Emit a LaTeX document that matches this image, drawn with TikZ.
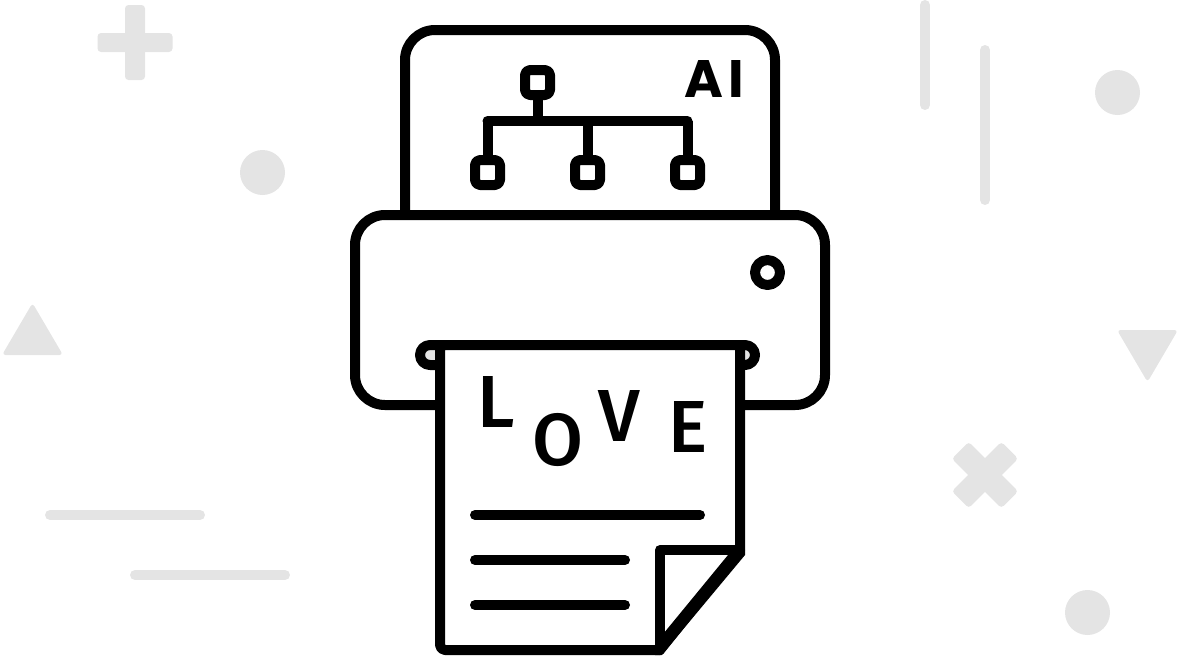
\documentclass[tikz,border=0pt]{standalone}
\usepackage{fontspec}
\setmainfont{Fira Sans Medium}
\newfontfamily\aifont{Poppins}
\definecolor{bggray}{RGB}{228,228,228}
\tikzset{
  bgshape/.style={fill=bggray,rounded corners=0.07cm},
  bgline/.style={draw=bggray,line width=0.2cm,line cap=round},
  inkline/.style={draw=black,line width=0.2cm,line cap=round,line join=round},
  treebox/.style={draw=black,fill=white,line width=0.2cm,rounded corners=0.1cm,minimum size=0.5cm,inner sep=0pt},
  loveletter/.style={font=\fontsize{42}{42}\selectfont,inner sep=0pt,anchor=base},
}
\begin{document}
\begin{tikzpicture}[x=0.02cm,y=-0.02cm,line cap=round,line join=round]
\useasboundingbox (0,0) rectangle (1180,660);
\fill[bgshape] (125,5) rectangle (145,80);
\fill[bgshape] (97.5,33) rectangle (172.5,52);
\fill[bggray] (262.5,172.5) circle (22.5);
\fill[bgshape] (32.5,303) -- (63,355) -- (2,355) -- cycle;
\draw[bgline] (50,515) -- (200,515);
\draw[bgline] (135,575) -- (285,575);
\draw[bgline] (925,5) -- (925,105);
\draw[bgline] (985,50) -- (985,200);
\fill[bggray] (1117.5,92.5) circle (22.5);
\fill[bgshape] (1117,330) -- (1178,330) -- (1147.5,382) -- cycle;
\fill[bgshape,rotate around={45:(985,475)}] (950,463) rectangle (1020,487);
\fill[bgshape,rotate around={-45:(985,475)}] (950,463) rectangle (1020,487);
\fill[bggray] (1087.5,612.5) circle (22.5);
\draw[inkline,rounded corners=0.6cm] (405,215) -- (405,30) -- (775,30) -- (775,215);
\node[treebox] (root) at (537.5,82.5) {};
\node[treebox] (leafa) at (487.5,172.5) {};
\node[treebox] (leafb) at (587.5,172.5) {};
\node[treebox] (leafc) at (687.5,172.5) {};
\coordinate (busroot) at (537.5,121);
\coordinate (busa) at (487.5,121);
\coordinate (busb) at (587.5,121);
\coordinate (busc) at (687.5,121);
\draw[inkline,line cap=butt] (root.south) -- (busroot);
\draw[inkline,line cap=butt] (busa) -- (leafa.north);
\draw[inkline,line cap=butt] (busb) -- (leafb.north);
\draw[inkline,line cap=butt] (busc) -- (leafc.north);
\draw[inkline] (busa) -- (busc);
\node[font=\aifont\fontsize{30}{30}\selectfont\bfseries,inner sep=0pt,anchor=base] (ailabel) at (714,97) {A\hspace{0.1cm}I};
\draw[inkline,fill=white,rounded corners=0.6cm] (355,215) rectangle (825,405);
\draw[inkline,fill=white] (767.5,272.5) circle (12.5);
\draw[inkline,fill=bggray,rounded corners=0.2cm] (420,345) rectangle (755,365);
\draw[inkline,fill=white] (740,345) -- (440,345) [rounded corners=0.1cm] -- (440,650) [sharp corners] -- (660,650) -- (740,550) -- cycle;
\draw[inkline] (660,650) -- (660,550) -- (740,550);
\fill[black] (745,550) -- (745,555) -- (661.7,655) -- (655,655) -- (655,640) -- (665,631.7) -- (728,555) -- (728,550) -- cycle;
\node[loveletter] (letterl) at (496,427) {L};
\node[loveletter] (lettero) at (558,465.5) {O};
\node[loveletter] (letterv) at (619.5,441) {V};
\node[loveletter] (lettere) at (688,452) {E};
\draw[inkline] (475,515) -- (700,515);
\draw[inkline] (475,560) -- (625,560);
\draw[inkline] (475,605) -- (625,605);
\end{tikzpicture}
\end{document}
